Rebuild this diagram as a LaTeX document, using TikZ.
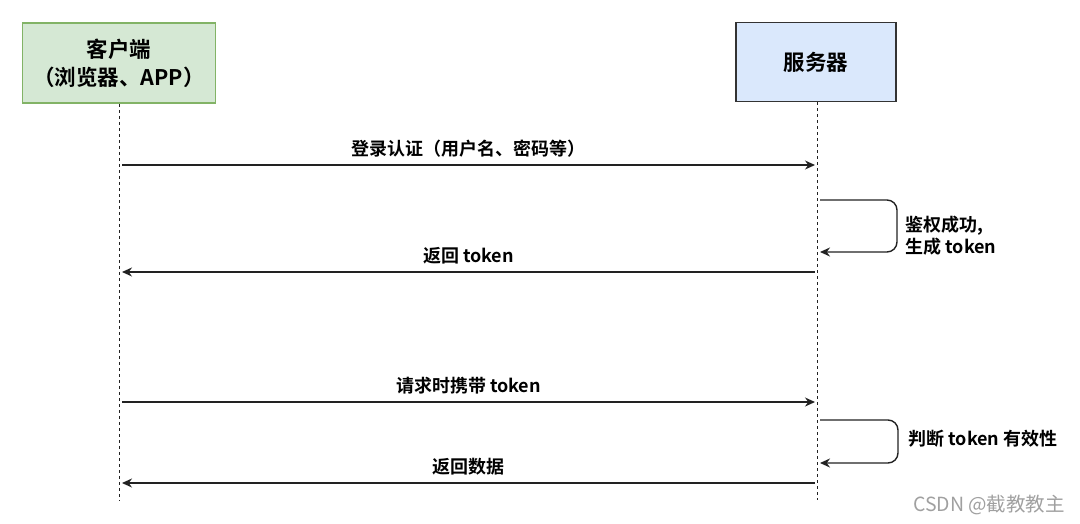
\documentclass[tikz,border=0pt]{standalone}
\usepackage{fontspec}
\usetikzlibrary{arrows.meta,positioning}
\newfontfamily\cjkbold{Noto Sans CJK SC Bold}
\newfontfamily\cjkreg{Noto Sans CJK SC}
\definecolor{clientfill}{HTML}{D5E8D4}
\definecolor{clientline}{HTML}{82B366}
\definecolor{serverfill}{HTML}{DAE8FC}
\definecolor{serverline}{HTML}{333333}
\definecolor{msgline}{HTML}{222222}
\definecolor{markgray}{HTML}{A0A0A0}
\begin{document}
\begin{tikzpicture}[x=1pt,y=-1pt]
			\tikzstyle{every node}=[font=\cjkbold\fontsize{18}{22}\selectfont, text=black]
			\tikzstyle{actor}=[draw, line width=1.5pt, align=center, inner sep=0pt, font=\cjkbold\fontsize{21.5}{28}\selectfont]
			\tikzstyle{lifeline}=[line width=1pt, dash pattern=on 3pt off 3pt, msgline]
			\tikzstyle{msg}=[line width=1.4pt, msgline, -{Stealth[length=10pt,width=9pt]}]
			\tikzstyle{selfmsg}=[msg, rounded corners=10pt]
			\useasboundingbox (0,0) rectangle (1080,523);
			% participants
			\node [actor, fill=clientfill, draw=clientline, minimum width=193pt, minimum height=80pt] (client) at (119,63) {客户端\\（浏览器、APP）};
			\node [actor, fill=serverfill, draw=serverline, minimum width=160pt, minimum height=79pt] (server) at (816,62) {服务器};
			\coordinate (clientend) at (119,500);
			\coordinate (serverend) at (817,500);
			\draw [lifeline] (client.south -| clientend) -- (clientend);
			\draw [lifeline] (server.south -| serverend) -- (serverend);
			% login
			\coordinate (c1) at (122,165);
			\coordinate (s1) at (815,165);
			\draw [msg] (c1) -- node [above=4pt] (login) {登录认证（用户名、密码等）} (s1);
			\coordinate (a1) at (820,200);
			\coordinate (b1) at (820,252);
			\draw [selfmsg] (a1) -- (897,200) -- (897,252) -- (b1);
			\node [anchor=west, align=left] (auth) at (902,236) {鉴权成功,\\生成 token};
			\coordinate (s2) at (815,272);
			\coordinate (c2) at (122,272);
			\draw [msg] (s2) -- node [above=4pt] (reply) {返回 token} (c2);
			% request
			\coordinate (c3) at (122,402);
			\coordinate (s3) at (815,402);
			\draw [msg] (c3) -- node [above=4pt] (request) {请求时携带 token} (s3);
			\coordinate (a2) at (820,420);
			\coordinate (b2) at (820,463);
			\draw [selfmsg] (a2) -- (898,420) -- (898,463) -- (b2);
			\node [anchor=west] (check) at (905,439) {判断 token 有效性};
			\coordinate (s4) at (815,483);
			\coordinate (c4) at (122,483);
			\draw [msg] (s4) -- node [above=4pt] (data) {返回数据} (c4);
			% watermark
			\node [font=\cjkreg\fontsize{19.5}{22}\selectfont, text=markgray] (mark) at (989,505) {CSDN @截教教主};
		\end{tikzpicture}
\end{document}
